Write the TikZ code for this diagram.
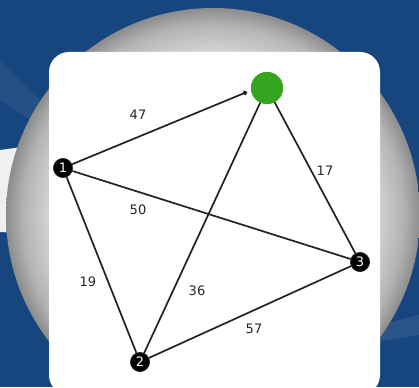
\documentclass[tikz,border=0pt]{standalone}
\usepackage{fontspec}
\setmainfont{DejaVu Sans}
\usetikzlibrary{arrows.meta}
\definecolor{bgblue}{HTML}{17467F}
\definecolor{edgec}{HTML}{222222}
\definecolor{greenn}{HTML}{35A41F}
\pgfdeclareradialshading{sphere}{\pgfpoint{0bp}{0bp}}{color(0bp)=(white); color(13bp)=(white!97!black); color(19bp)=(white!86!black); color(23bp)=(white!70!black); color(25bp)=(white!55!black); color(50bp)=(white!55!black)}
\tikzset{
  vtx/.style={circle, fill=black, draw=black!80, line width=0.6pt, minimum size=19pt, inner sep=0pt, text=white, font=\fontsize{13}{13}\selectfont},
  goal/.style={circle, fill=greenn, minimum size=32pt, inner sep=0pt},
  edge/.style={draw=edgec, line width=1.7pt},
  wlabel/.style={font=\fontsize{13}{13}\selectfont, text=black!85, inner sep=0pt}
}
\begin{document}
\begin{tikzpicture}[x=1pt,y=-1pt]
\useasboundingbox (0,0) rectangle (419,387);
\clip (0,0) rectangle (419,387);
% background
\fill[bgblue] (0,0) rectangle (419,387);
\fill[white, opacity=0.06] (0,60) -- (60,120) -- (60,140) -- (0,100) -- cycle;
\fill[white, opacity=0.08] (360,330) -- (419,315) -- (419,335) -- (360,345) -- cycle;
\fill[white!88!gray] (0,150) -- (22,147) -- (22,233) -- (0,232) -- cycle;
% sphere
\shade[shading=sphere] (213,215) circle[radius=207];
% card
\fill[white, rounded corners=20pt] (49,52) rectangle (380,395);
% nodes
\node[vtx] (n1) at (63,168) {1};
\node[vtx] (n2) at (140,362) {2};
\node[vtx] (n3) at (360,262) {3};
\node[goal] (g) at (267,88) {};
\coordinate (tip) at (247,92);
% edges
\draw[edge, -{Circle[length=4.5pt]}] (n1) -- (tip);
\draw[edge] (n1) -- (n3);
\draw[edge] (n1) -- (n2);
\draw[edge] (g) -- (n2);
\draw[edge] (g) -- (n3);
\draw[edge] (n2) -- (n3);
% redraw nodes on top
\node[vtx] at (n1) {1};
\node[vtx] at (n2) {2};
\node[vtx] at (n3) {3};
\node[goal] at (g) {};
% labels
\node[wlabel] (l47) at (138,115) {47};
\node[wlabel] (l17) at (325,171) {17};
\node[wlabel] (l50) at (138,210) {50};
\node[wlabel] (l19) at (88,282) {19};
\node[wlabel] (l36) at (197,291) {36};
\node[wlabel] (l57) at (254,329) {57};
\end{tikzpicture}
\end{document}
